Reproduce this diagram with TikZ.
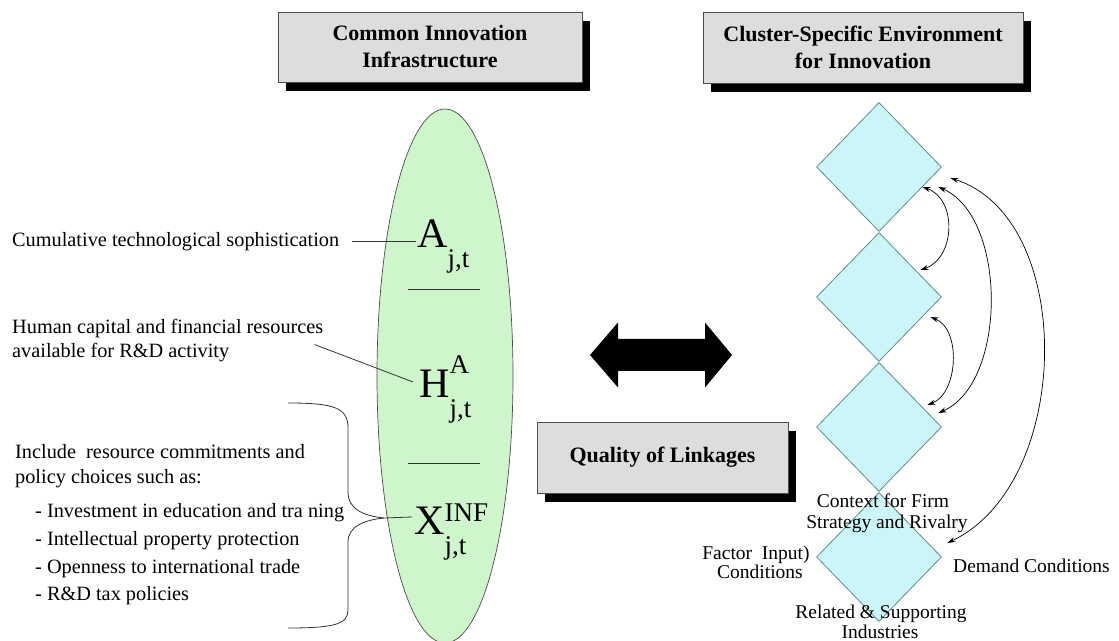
\documentclass[tikz,border=0pt]{standalone}
\usepackage{fontspec}
\setmainfont{Liberation Serif}
\usetikzlibrary{shapes.geometric,arrows.meta,calc,shadows}

\definecolor{boxgray}{RGB}{221,221,221}
\definecolor{infragreen}{RGB}{206,245,203}
\definecolor{clustercyan}{RGB}{204,245,250}
\definecolor{clusteredge}{RGB}{95,140,140}

\newcommand{\bodyfont}{\fontsize{20.3}{25}\selectfont}
\newcommand{\symfont}{\fontsize{42}{42}\selectfont}
\newcommand{\idxfont}{\fontsize{27}{27}\selectfont}
% letter, superscript, raise of superscript, subscript
\newcommand{\infvar}[4]{#1\rlap{\raisebox{-20pt}{\idxfont #4}}\raisebox{#3}{\idxfont #2}}

\tikzset{
  titlebox/.style={draw=gray!60!black, fill=boxgray, line width=0.8pt,
    font=\fontsize{22}{27}\selectfont\bfseries, align=center, inner sep=0pt,
    drop shadow={shadow xshift=8pt, shadow yshift=-9pt, opacity=1, fill=black}},
  lbl/.style={font=\bodyfont, inner sep=0pt, anchor=base west},
  clab/.style={font=\fontsize{19.5}{22}\selectfont, inner sep=0pt, anchor=base},
  cluster/.style={diamond, draw=clusteredge, fill=clustercyan, line width=0.8pt,
    minimum width=125pt, minimum height=129pt, inner sep=0pt},
  var/.style={font=\symfont, inner sep=0pt, anchor=base west},
  leader/.style={draw=black!80, line width=0.8pt},
  link/.style={{Stealth[length=8pt,width=5pt]}-{Stealth[length=8pt,width=5pt]}, line width=0.7pt}
}

\begin{document}
\begin{tikzpicture}[x=1pt,y=1pt]
\useasboundingbox (0,0) rectangle (1119,640);

% headings
\node[titlebox, minimum width=304pt, minimum height=70pt] (common) at (430,593) {Common Innovation\\Infrastructure};
\node[titlebox, minimum width=320pt, minimum height=71pt] (cluster) at (863,592.5) {Cluster-Specific Environment\\for Innovation};
\node[titlebox, minimum width=251pt, minimum height=71pt] (quality) at (662.5,182.5) {Quality of Linkages};

% common innovation infrastructure
\node[ellipse, draw=gray!60!black, fill=infragreen, line width=0.7pt,
  minimum width=136pt, minimum height=534pt, inner sep=0pt] (infra) at (445,264) {};
\node[var] (A) at (417,392) {\infvar{A}{}{0pt}{j,t}};
\node[var] (H) at (419,242) {\infvar{H}{A}{24pt}{j,t}};
\node[var] (X) at (414,105) {\infvar{X}{INF}{13pt}{j,t}};
\draw[leader] (408,351) -- (480,351);
\draw[leader] (408,177) -- (480,177);

\node[lbl] (cum) at (12,393) {Cumulative technological sophistication};
\node[lbl] (hum1) at (12,306) {Human capital and financial resources};
\node[lbl] (hum2) at (12,282) {available for R\&D activity};
\node[lbl] (inc1) at (15,181) {Include\ \ resource commitments and};
\node[lbl] (inc2) at (15,156) {policy choices such as:};
\foreach \txt [count=\i] in {- Investment in education and tra ning,
    - Intellectual property protection,
    - Openness to international trade,
    - R\&D tax policies}
  \node[lbl] (item\i) at (35,{150-27.7*\i}) {\txt};

\draw[leader] ($(cum.base east)+(13,6)$) -- ($(A.base west)+(-1,7)$);
\draw[leader] ($(hum1.south east)+(-9,-6)$) -- ($(H.base west)+(-6,16)$);

% brace to the policy variable
\coordinate (brtop) at (288,237);
\coordinate (brbot) at (288,12);
\coordinate (jn) at (384,122);
\draw[leader] (brtop) .. controls (335,237) and (348,232) .. (348,212) -- (348,148)
  .. controls (348,130) and (365,124) .. (jn) -- ($(X.base west)+(-2,18)$);
\draw[leader] (jn) .. controls (365,120) and (348,114) .. (348,98) -- (348,30)
  .. controls (348,16) and (335,12) .. (brbot);

% two-way link
\fill (590,285) -- (618,317.5) -- (618,301) -- (705,301) -- (705,317.5) -- (732,285)
  -- (705,252.5) -- (705,269) -- (618,269) -- (618,252.5) -- cycle;

% cluster diamond
\foreach \i/\y in {1/473,2/343,3/213,4/83}
  \node[cluster] (d\i) at (879,\y) {};

\draw[link] ($(d1.east)+(-19.5,-20)$) .. controls +(35,-12) and +(35,12) .. ($(d2.east)+(-21.5,27)$);
\draw[link] ($(d2.east)+(-11.5,-20)$) .. controls +(31,-12) and +(31,12) .. ($(d3.east)+(-14.5,22)$);
\draw[link] ($(d1.east)+(-3.5,-20)$) .. controls +(69,-30) and +(69,30) .. ($(d3.east)+(-3.5,14)$);
\draw[link] ($(d1.east)+(8.5,-11)$) .. controls +(126,-40) and +(126,60) .. ($(d4.east)+(5.5,14)$);

\node[clab] (ctx1) at (883,132) {Context for Firm};
\node[clab] (ctx2) at (887,111) {Strategy and Rivalry};
\node[clab] (fac1) at (756,81) {Factor\ \ Input)};
\node[clab] (fac2) at (760,61) {Conditions};
\node[clab, anchor=base west] (dem) at (953,67) {Demand Conditions};
\node[clab] (rel1) at (881,22) {Related \& Supporting};
\node[clab] (rel2) at (880,2) {Industries};
\end{tikzpicture}
\end{document}
